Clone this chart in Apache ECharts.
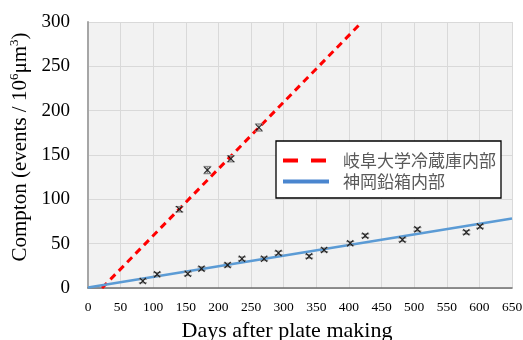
<!DOCTYPE html>
<html>
<head>
<meta charset="utf-8">
<script src="https://cdn.jsdelivr.net/npm/echarts@6/dist/echarts.min.js"></script>
<style>html,body{margin:0;padding:0;background:#fff}#c{width:523px;height:340px}</style>
</head>
<body>
<div id="c"></div>
<script>
// Data
var gifuDays = [140, 183, 219, 262];
var gifuValues = [88.8, 133, 145.8, 181];
var gifuErrors = [3, 4, 3.5, 4];
var kamiokaDays = [84, 106, 153, 174, 214, 236, 270, 292, 339, 362, 402, 425, 482, 505, 580, 601];
var kamiokaValues = [7.9, 15.4, 16.1, 21.8, 25.9, 33, 33, 39.5, 35.7, 42.9, 50.4, 59, 54.5, 66.2, 62.8, 69.5];
var kamiokaErrors = [2, 2, 2, 2, 2, 2, 2, 2, 2, 2, 2, 2, 2, 2, 2, 2];
var gifuFitLine = [[21.5, 0], [420, 300]];
var kamiokaFitLine = [[0, 0.5], [650, 78.5]];
var xTicks = [0, 650, 50];
var yTicks = [0, 300, 50];
var seriesNames = ['岐阜大学冷蔵庫内部', '神岡鉛箱内部'];

function zip(xs, ys) { return xs.map(function (x, i) { return [x, ys[i]]; }); }
function errData(xs, ys, es) { return xs.map(function (x, i) { return [x, ys[i] - es[i], ys[i] + es[i]]; }); }

var serif = '"Liberation Serif", "Times New Roman", serif';
var cjk = '"Noto Sans CJK JP", "Noto Sans CJK SC", sans-serif';
var xShape = 'path://M1.2,0L5,3.8L8.8,0L10,1.2L6.2,5L10,8.8L8.8,10L5,6.2L1.2,10L0,8.8L3.8,5L0,1.2Z';

function errorRender(params, api) {
  var x = api.value(0);
  var lo = api.coord([x, api.value(1)]);
  var hi = api.coord([x, api.value(2)]);
  var w = 4;
  var st = { stroke: '#8c8c8c', lineWidth: 1.3, fill: null };
  return {
    type: 'group',
    children: [
      { type: 'line', shape: { x1: lo[0], y1: lo[1], x2: hi[0], y2: hi[1] }, style: st },
      { type: 'line', shape: { x1: lo[0] - w, y1: lo[1], x2: lo[0] + w, y2: lo[1] }, style: st },
      { type: 'line', shape: { x1: hi[0] - w, y1: hi[1], x2: hi[0] + w, y2: hi[1] }, style: st }
    ]
  };
}

var chart = echarts.init(document.getElementById('c'), null, { renderer: 'canvas' });
chart.setOption({
  animation: false,
  backgroundColor: '#ffffff',
  grid: { left: 88, top: 22, width: 424, height: 266, show: true, backgroundColor: '#f2f2f2', borderWidth: 0, containLabel: false, outerBoundsMode: 'none' },
  legend: {
    orient: 'vertical',
    left: 276, top: 141,
    width: 226,
    backgroundColor: '#ffffff',
    borderColor: '#000000',
    borderWidth: 1.3,
    borderRadius: 0,
    padding: [11, 5, 8, 5],
    itemWidth: 46,
    itemHeight: 14,
    itemGap: 4,
    textStyle: { fontFamily: cjk, fontSize: 17, color: '#595959', lineHeight: 17, padding: [0, 0, 0, 9] },
    data: [
      { name: seriesNames[0], lineStyle: { type: [15, 13], width: 4, color: '#ff0000' }, itemStyle: { opacity: 0, color: 'rgba(0,0,0,0)', borderWidth: 0 } },
      { name: seriesNames[1], lineStyle: { width: 4, color: '#4a86cf' }, itemStyle: { opacity: 0, color: 'rgba(0,0,0,0)', borderWidth: 0 } }
    ]
  },
  xAxis: [{
    type: 'value', min: xTicks[0], max: xTicks[1], interval: xTicks[2],
    name: 'Days after plate making', nameLocation: 'middle', nameGap: 32,
    nameTextStyle: { fontFamily: serif, fontSize: 22, color: '#000', padding: [0, 26, 0, 0] },
    axisLine: { show: true, lineStyle: { color: '#d9d9d9', width: 1 } },
    axisTick: { show: false },
    axisLabel: { fontFamily: serif, fontSize: 13.5, color: '#000', margin: 12 },
    splitLine: { show: true, lineStyle: { color: '#d9d9d9', width: 1 } }
  }, {
    type: 'value', position: 'top', min: xTicks[0], max: xTicks[1],
    axisLine: { show: true, lineStyle: { color: '#6e6e6e', width: 1.5 } },
    axisTick: { show: false }, axisLabel: { show: false }, splitLine: { show: false }
  }],
  yAxis: [{
    type: 'value', min: yTicks[0], max: yTicks[1], interval: yTicks[2],
    name: '{a|Compton (events / 10}{s|6}{a|μm}{s|3}{a|)}',
    nameLocation: 'middle', nameGap: 53,
    nameTextStyle: {
      padding: [0, 0, 0, 16],
      rich: {
        a: { fontFamily: serif, fontSize: 21, color: '#000', lineHeight: 23, verticalAlign: 'bottom' },
        s: { fontFamily: serif, fontSize: 13, color: '#000', lineHeight: 23, verticalAlign: 'top' }
      }
    },
    axisLine: { show: false },
    axisTick: { show: false },
    axisLabel: { fontFamily: serif, fontSize: 19, color: '#000', margin: 18 },
    splitLine: { show: true, lineStyle: { color: '#d9d9d9', width: 1 } }
  }, {
    type: 'value', position: 'right', min: yTicks[0], max: yTicks[1],
    axisLine: { show: true, lineStyle: { color: '#a6a6a6', width: 2 } },
    axisTick: { show: false }, axisLabel: { show: false }, splitLine: { show: false }
  }],
  series: [
    {
      name: seriesNames[0], type: 'line', data: gifuFitLine, symbol: 'none', z: 3,
      lineStyle: { color: '#ff0000', width: 3, type: [7, 5] }, itemStyle: { color: '#ff0000' }
    },
    {
      name: seriesNames[1], type: 'line', data: kamiokaFitLine, symbol: 'none', z: 3,
      lineStyle: { color: '#5b9bd5', width: 2.5 }, itemStyle: { color: '#5b9bd5' }
    },
    { name: 'gifuErr', type: 'custom', renderItem: errorRender, data: errData(gifuDays, gifuValues, gifuErrors), z: 4 },
    { name: 'kamiokaErr', type: 'custom', renderItem: errorRender, data: errData(kamiokaDays, kamiokaValues, kamiokaErrors), z: 4 },
    { name: 'gifuPts', type: 'scatter', data: zip(gifuDays, gifuValues), symbol: xShape, symbolSize: 7, itemStyle: { color: '#000' }, z: 5 },
    { name: 'kamiokaPts', type: 'scatter', data: zip(kamiokaDays, kamiokaValues), symbol: xShape, symbolSize: 7, itemStyle: { color: '#000' }, z: 5 }
  ]
});
</script>
</body>
</html>
